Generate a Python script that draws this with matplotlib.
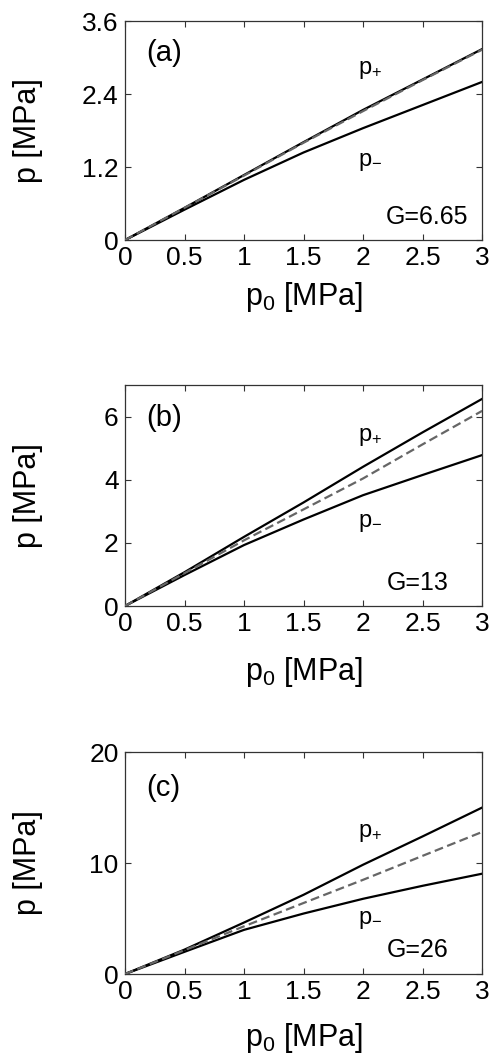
import matplotlib
matplotlib.use("Agg")
import matplotlib.pyplot as plt

plt.rcParams['font.family'] = ['Liberation Sans', 'DejaVu Sans']
plt.rcParams['mathtext.fontset'] = 'custom'
plt.rcParams['mathtext.rm'] = 'Liberation Sans'
plt.rcParams['mathtext.it'] = 'Liberation Sans'

p0 = [0, 0.5, 1, 1.5, 2, 2.5, 3]

# panel (a), G = 6.65
a_plus = [0, 0.53, 1.07, 1.61, 2.14, 2.64, 3.14]
a_ref = [0, 0.53, 1.06, 1.60, 2.12, 2.63, 3.13]
a_minus = [0, 0.50, 0.99, 1.44, 1.84, 2.22, 2.60]

# panel (b), G = 13
b_plus = [0, 1.07, 2.19, 3.28, 4.41, 5.50, 6.56]
b_ref = [0, 1.04, 2.08, 3.06, 4.04, 5.12, 6.18]
b_minus = [0, 0.98, 1.93, 2.74, 3.51, 4.15, 4.78]

# panel (c), G = 26
c_plus = [0, 2.20, 4.64, 7.14, 9.85, 12.4, 15.0]
c_ref = [0, 2.15, 4.30, 6.40, 8.49, 10.65, 12.8]
c_minus = [0, 2.00, 3.98, 5.45, 6.78, 7.95, 9.04]

panels = ['(a)', '(b)', '(c)']
g_labels = ['G=6.65', 'G=13', 'G=26']
ylims = [3.6, 7, 20]
yticks = [[0, 1.2, 2.4, 3.6], [0, 2, 4, 6], [0, 10, 20]]
yticklabels = [['0', '1.2', '2.4', '3.6'], ['0', '2', '4', '6'], ['0', '10', '20']]
xticks = [0, 0.5, 1, 1.5, 2, 2.5, 3]
xticklabels = ['0', '0.5', '1', '1.5', '2', '2.5', '3']

# text positions in axes fraction: label y, p+ y, p- y, G y, G right x, xlabel y
txt_pos = [
    (0.855, 0.776, 0.356, 0.105, 0.961, -0.26),
    (0.850, 0.765, 0.375, 0.104, 0.905, -0.30),
    (0.838, 0.635, 0.243, 0.108, 0.905, -0.29),
]
axes_rect = [
    [0.254, 0.772, 0.726, 0.208],
    [0.254, 0.4245, 0.726, 0.2099],
    [0.254, 0.0750, 0.726, 0.2108],
]

series = [(a_plus, a_ref, a_minus), (b_plus, b_ref, b_minus), (c_plus, c_ref, c_minus)]

fig = plt.figure(figsize=(4.92, 10.53), dpi=100)

for i in range(3):
    ax = fig.add_axes(axes_rect[i])
    plus, ref, minus = series[i]
    ax.plot(p0, ref, color='#666666', lw=1.6, linestyle=(0, (4, 2)), zorder=3)
    ax.plot(p0, plus, color='black', lw=1.6, zorder=2)
    ax.plot(p0, minus, color='black', lw=1.6, zorder=2)

    ax.set_xlim(0, 3)
    ax.set_ylim(0, ylims[i])
    ax.set_xticks(xticks)
    ax.set_xticklabels(xticklabels)
    ax.set_yticks(yticks[i])
    ax.set_yticklabels(yticklabels[i])
    ax.tick_params(direction='in', length=4, width=0.8, labelsize=19,
                   top=True, right=True, pad=4.5, color='#333333')
    for s in ax.spines.values():
        s.set_color('#333333')
        s.set_linewidth(0.9)

    ly, py, my, gy, gx, xly = txt_pos[i]
    ax.set_xlabel(r'p$_0$ [MPa]', fontsize=22, va='center')
    ax.xaxis.set_label_coords(0.5, xly)
    ax.set_ylabel('p [MPa]', fontsize=22, va='center')
    ax.yaxis.set_label_coords(-0.272, 0.5)

    ax.text(0.06, ly, panels[i], transform=ax.transAxes, fontsize=21,
            va='center', ha='left')
    ax.text(0.652, py, r'p$_{\mathregular{+}}$', transform=ax.transAxes, fontsize=17,
            va='center', ha='left')
    ax.text(0.652, my, r'p$_{\mathregular{-}}$', transform=ax.transAxes, fontsize=17,
            va='center', ha='left')
    ax.text(gx, gy, g_labels[i], transform=ax.transAxes, fontsize=18,
            va='center', ha='right')

fig.savefig('out.png', dpi=100)
